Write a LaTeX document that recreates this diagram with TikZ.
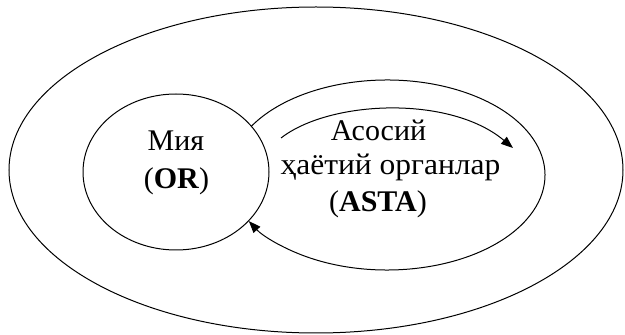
\documentclass[tikz,border=0pt]{standalone}
\usepackage{fontspec}
\setmainfont{Liberation Serif}
\usetikzlibrary{shapes.geometric,arrows.meta,calc}
\begin{document}
\begin{tikzpicture}[x=1pt,y=1pt,
  line/.style={line width=1pt, black},
  blob/.style={ellipse, draw, line width=1pt, inner sep=0pt},
  label/.style={anchor=base, inner sep=0pt, font=\fontsize{30}{36}\selectfont},
  tip/.style={-{Triangle[length=12pt,width=9pt]}}
]
\useasboundingbox (0,0) rectangle (625,335);

% outer field
\node[blob, minimum width=614pt, minimum height=326pt] (outer) at (316,165) {};
% brain
\node[blob, minimum width=186pt, minimum height=156pt] (brain) at (176,163) {};

% vital organs: open ellipse that returns into the brain
\coordinate (vstart) at ($(387,160)+(149:158pt and 95pt)$);
\draw[line, tip] (vstart) arc[start angle=149, end angle=-151, x radius=158pt, y radius=95pt] coordinate (vend);

% signal from the brain to the organs
\coordinate (a0) at (281,197);
\coordinate (a1) at (513,187);
\draw[line, tip] (a0) .. controls (330,235) and (450,240) .. (a1);

% texts
\node[label] (t1) at (176,184) {Мия};
\node[label] (t2) at (176.5,146) {(\textbf{OR})};
\node[label] (t3) at (378.5,194) {Асосий};
\node[label, xscale=1.05] (t4) at (390.5,160) {ҳаётий органлар};
\node[label] (t5) at (378,123) {(\textbf{ASTA})};
\end{tikzpicture}
\end{document}
